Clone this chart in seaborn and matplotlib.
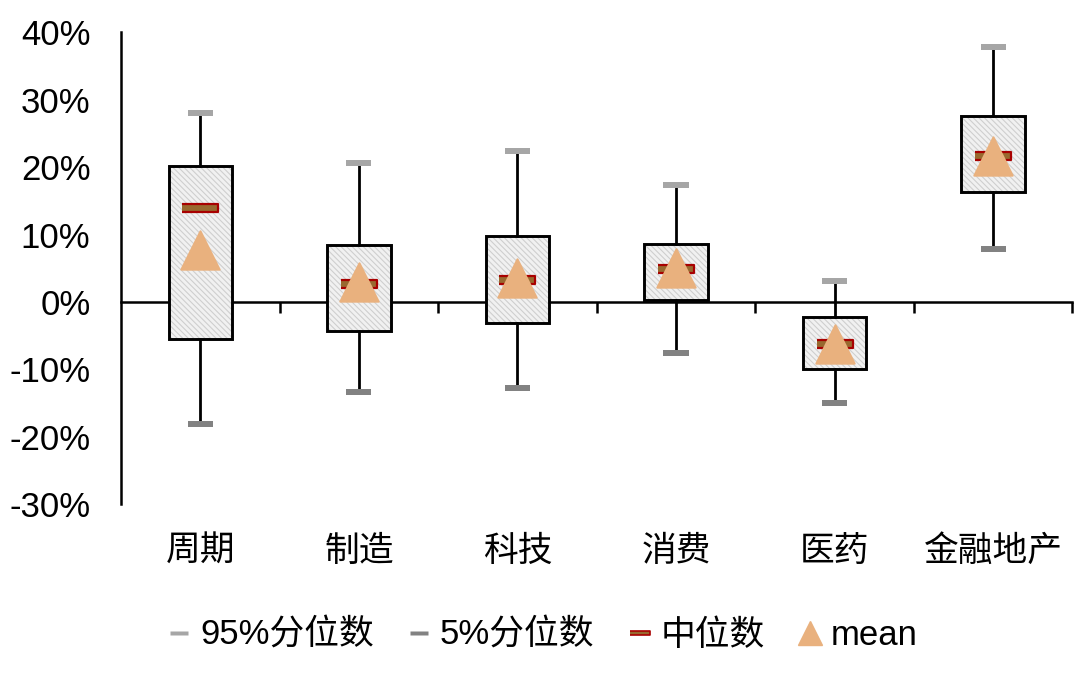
import numpy as np
import pandas as pd
import matplotlib
matplotlib.use("Agg")
import matplotlib.pyplot as plt
from matplotlib.lines import Line2D
from matplotlib.ticker import FuncFormatter, FixedLocator
import seaborn as sns

# ---------------- data ----------------
categories = ["周期", "制造", "科技", "消费", "医药", "金融地产"]
p95 = [0.280, 0.206, 0.224, 0.173, 0.031, 0.378]
q3 = [0.202, 0.084, 0.098, 0.086, -0.022, 0.276]
median = [0.139, 0.027, 0.033, 0.049, -0.062, 0.216]
mean = [0.077, 0.029, 0.036, 0.050, -0.062, 0.216]
q1 = [-0.055, -0.043, -0.031, 0.0025, -0.099, 0.163]
p5 = [-0.181, -0.133, -0.127, -0.076, -0.150, 0.079]
legend_labels = ["95%分位数", "5%分位数", "中位数", "mean"]

# ---------------- style ----------------
sns.set_theme(style="white")
plt.rcParams["font.family"] = ["Liberation Sans", "Noto Sans CJK SC", "DejaVu Sans"]
plt.rcParams["hatch.linewidth"] = 0.8
for k in ["text.color", "axes.labelcolor", "xtick.color", "ytick.color"]:
    plt.rcParams[k] = "black"

FS = 25
c95 = "#a6a6a6"
c5 = "#828282"
cmed_face = "#98692f"
cmed_edge = "#a80000"
cmean = "#e9b17e"

fig = plt.figure(figsize=(10.8, 6.86), dpi=100)
ax = fig.add_axes([0.112, 0.265, 0.881, 0.688])

n = len(categories)
pos = np.arange(n)
df = pd.DataFrame({"cat": categories, "p95": p95, "q3": q3, "median": median,
                   "mean": mean, "q1": q1, "p5": p5, "x": pos})

stats = [dict(med=m, q1=a, q3=b, whislo=lo, whishi=hi, label=c)
         for c, m, a, b, lo, hi in zip(categories, median, q1, q3, p5, p95)]

# hatched fill layer
ax.bxp(stats, positions=pos, widths=0.40, showfliers=False, showcaps=False,
       patch_artist=True,
       boxprops=dict(facecolor="#f1f1f1", edgecolor="#cfcfcf", hatch="\\\\\\\\\\\\", linewidth=0),
       whiskerprops=dict(color="black", linewidth=2.0),
       medianprops=dict(linewidth=0), zorder=2)
# outline layer
ax.bxp(stats, positions=pos, widths=0.40, showfliers=False, showcaps=False,
       showbox=True, patch_artist=True,
       boxprops=dict(facecolor="none", edgecolor="black", linewidth=2.1),
       whiskerprops=dict(linewidth=0),
       medianprops=dict(linewidth=0), zorder=3)

cap_marker = [(-1, -0.24), (1, -0.24), (1, 0.24), (-1, 0.24)]
med_marker = [(-1, -0.2), (1, -0.2), (1, 0.2), (-1, 0.2)]

sns.scatterplot(data=df, x="x", y="p95", marker=cap_marker, s=330, color=c95,
                edgecolor="none", ax=ax, zorder=4, legend=False)
sns.scatterplot(data=df, x="x", y="p5", marker=cap_marker, s=330, color=c5,
                edgecolor="none", ax=ax, zorder=4, legend=False)
sns.scatterplot(data=df, x="x", y="median", marker=med_marker, s=660, color=cmed_face,
                edgecolor=cmed_edge, linewidth=1.6, ax=ax, zorder=5, legend=False)
sns.scatterplot(data=df, x="x", y="mean", marker="^", s=760, color=cmean,
                edgecolor=cmean, linewidth=1.5, ax=ax, zorder=6, legend=False)

# ---------------- axes ----------------
ax.set_xlim(-0.5, n - 0.5)
ax.set_ylim(-0.30, 0.40)
ax.yaxis.set_major_locator(FixedLocator(np.arange(-0.3, 0.401, 0.1)))
ax.yaxis.set_major_formatter(FuncFormatter(lambda v, p: f"{v*100:.0f}%"))
ax.tick_params(axis="y", length=0, pad=22, labelsize=FS, labelcolor="black")

for s in ["top", "right"]:
    ax.spines[s].set_visible(False)
ax.spines["left"].set_color("black")
ax.spines["left"].set_linewidth(1.8)
ax.spines["bottom"].set_position(("data", 0))
ax.spines["bottom"].set_color("black")
ax.spines["bottom"].set_linewidth(1.8)
ax.spines["bottom"].set_zorder(1)

ax.set_xticks(pos)
ax.set_xticklabels([])
ax.tick_params(axis="x", which="major", length=0)
ax.set_xticks(np.arange(0.5, n, 1.0), minor=True)
ax.tick_params(axis="x", which="minor", length=8, width=1.8, direction="out",
               color="black", bottom=True)
ax.set_xlabel("")
ax.set_ylabel("")
ax.grid(False)

for x, c in zip(pos, categories):
    ax.text(x, -0.0996, c, transform=ax.get_xaxis_transform(), ha="center",
            va="center", fontsize=FS, color="black")

# ---------------- legend ----------------
handles = [
    Line2D([], [], linestyle="none", marker=cap_marker, markersize=13,
           markerfacecolor=c95, markeredgecolor="none"),
    Line2D([], [], linestyle="none", marker=cap_marker, markersize=13,
           markerfacecolor=c5, markeredgecolor="none"),
    Line2D([], [], linestyle="none", marker=med_marker, markersize=14,
           markerfacecolor=cmed_face, markeredgecolor=cmed_edge, markeredgewidth=1.2),
    Line2D([], [], linestyle="none", marker="^", markersize=17,
           markerfacecolor=cmean, markeredgecolor=cmean),
]
leg = fig.legend(handles, legend_labels, loc="center", bbox_to_anchor=(0.503, 0.074),
                 ncol=4, frameon=False, fontsize=FS, handlelength=0.6,
                 handletextpad=0.3, columnspacing=1.0, borderpad=0)
for t in leg.get_texts():
    t.set_color("black")

fig.savefig("out.png", dpi=100)
